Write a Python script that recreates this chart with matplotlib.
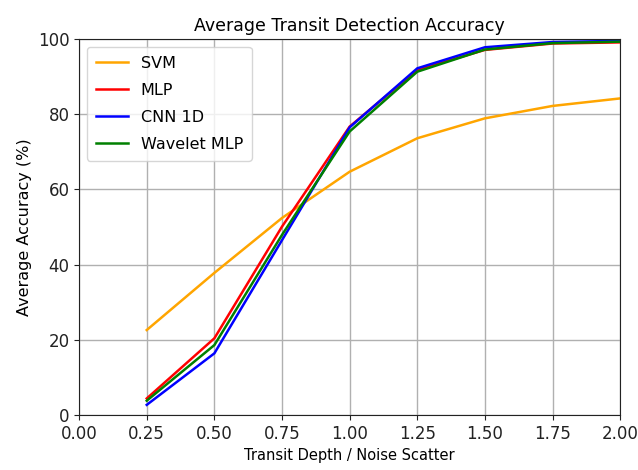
import numpy as np
import matplotlib
matplotlib.use('Agg')
import matplotlib.pyplot as plt

# transit depth / noise scatter
depth = [0.25, 0.5, 0.75, 1.0, 1.25, 1.5, 1.75, 2.0]

svm = [22.6, 37.8, 52.4, 64.7, 73.6, 78.9, 82.2, 84.2]
mlp = [4.4, 20.4, 50.1, 76.7, 91.8, 97.1, 98.8, 99.1]
cnn = [2.7, 16.4, 46.5, 76.5, 92.2, 97.8, 99.2, 99.5]
wavelet = [3.8, 18.6, 47.9, 75.4, 91.3, 97.2, 98.9, 99.3]

fig = plt.figure(figsize=(6.38, 4.70), dpi=100)
ax = fig.add_axes([0.124, 0.117, 0.848, 0.800])

lw = 1.8
ax.plot(depth, svm, color='orange', lw=lw, label='SVM')
ax.plot(depth, mlp, color='red', lw=lw, label='MLP')
ax.plot(depth, cnn, color='blue', lw=lw, label='CNN 1D')
ax.plot(depth, wavelet, color='green', lw=lw, label='Wavelet MLP')

ax.set_xlim(0, 2.0)
ax.set_ylim(0, 100)
ax.set_xticks(np.arange(0, 2.01, 0.25))
ax.set_yticks([0, 20, 40, 60, 80, 100])
ax.tick_params(labelsize=12, colors='#222222')
ax.grid(True, color='#b0b0b0', lw=1.0)
for s in ax.spines.values():
    s.set_color('#222222')
ax.set_xlabel('Transit Depth / Noise Scatter', fontsize=10.5)
ax.set_ylabel('Average Accuracy (%)', fontsize=11.5)
ax.set_title('Average Transit Detection Accuracy', fontsize=12.5)
ax.legend(loc='upper left', fontsize=11.5, labelspacing=0.75, borderpad=0.55)

fig.savefig('out.png', dpi=100)
